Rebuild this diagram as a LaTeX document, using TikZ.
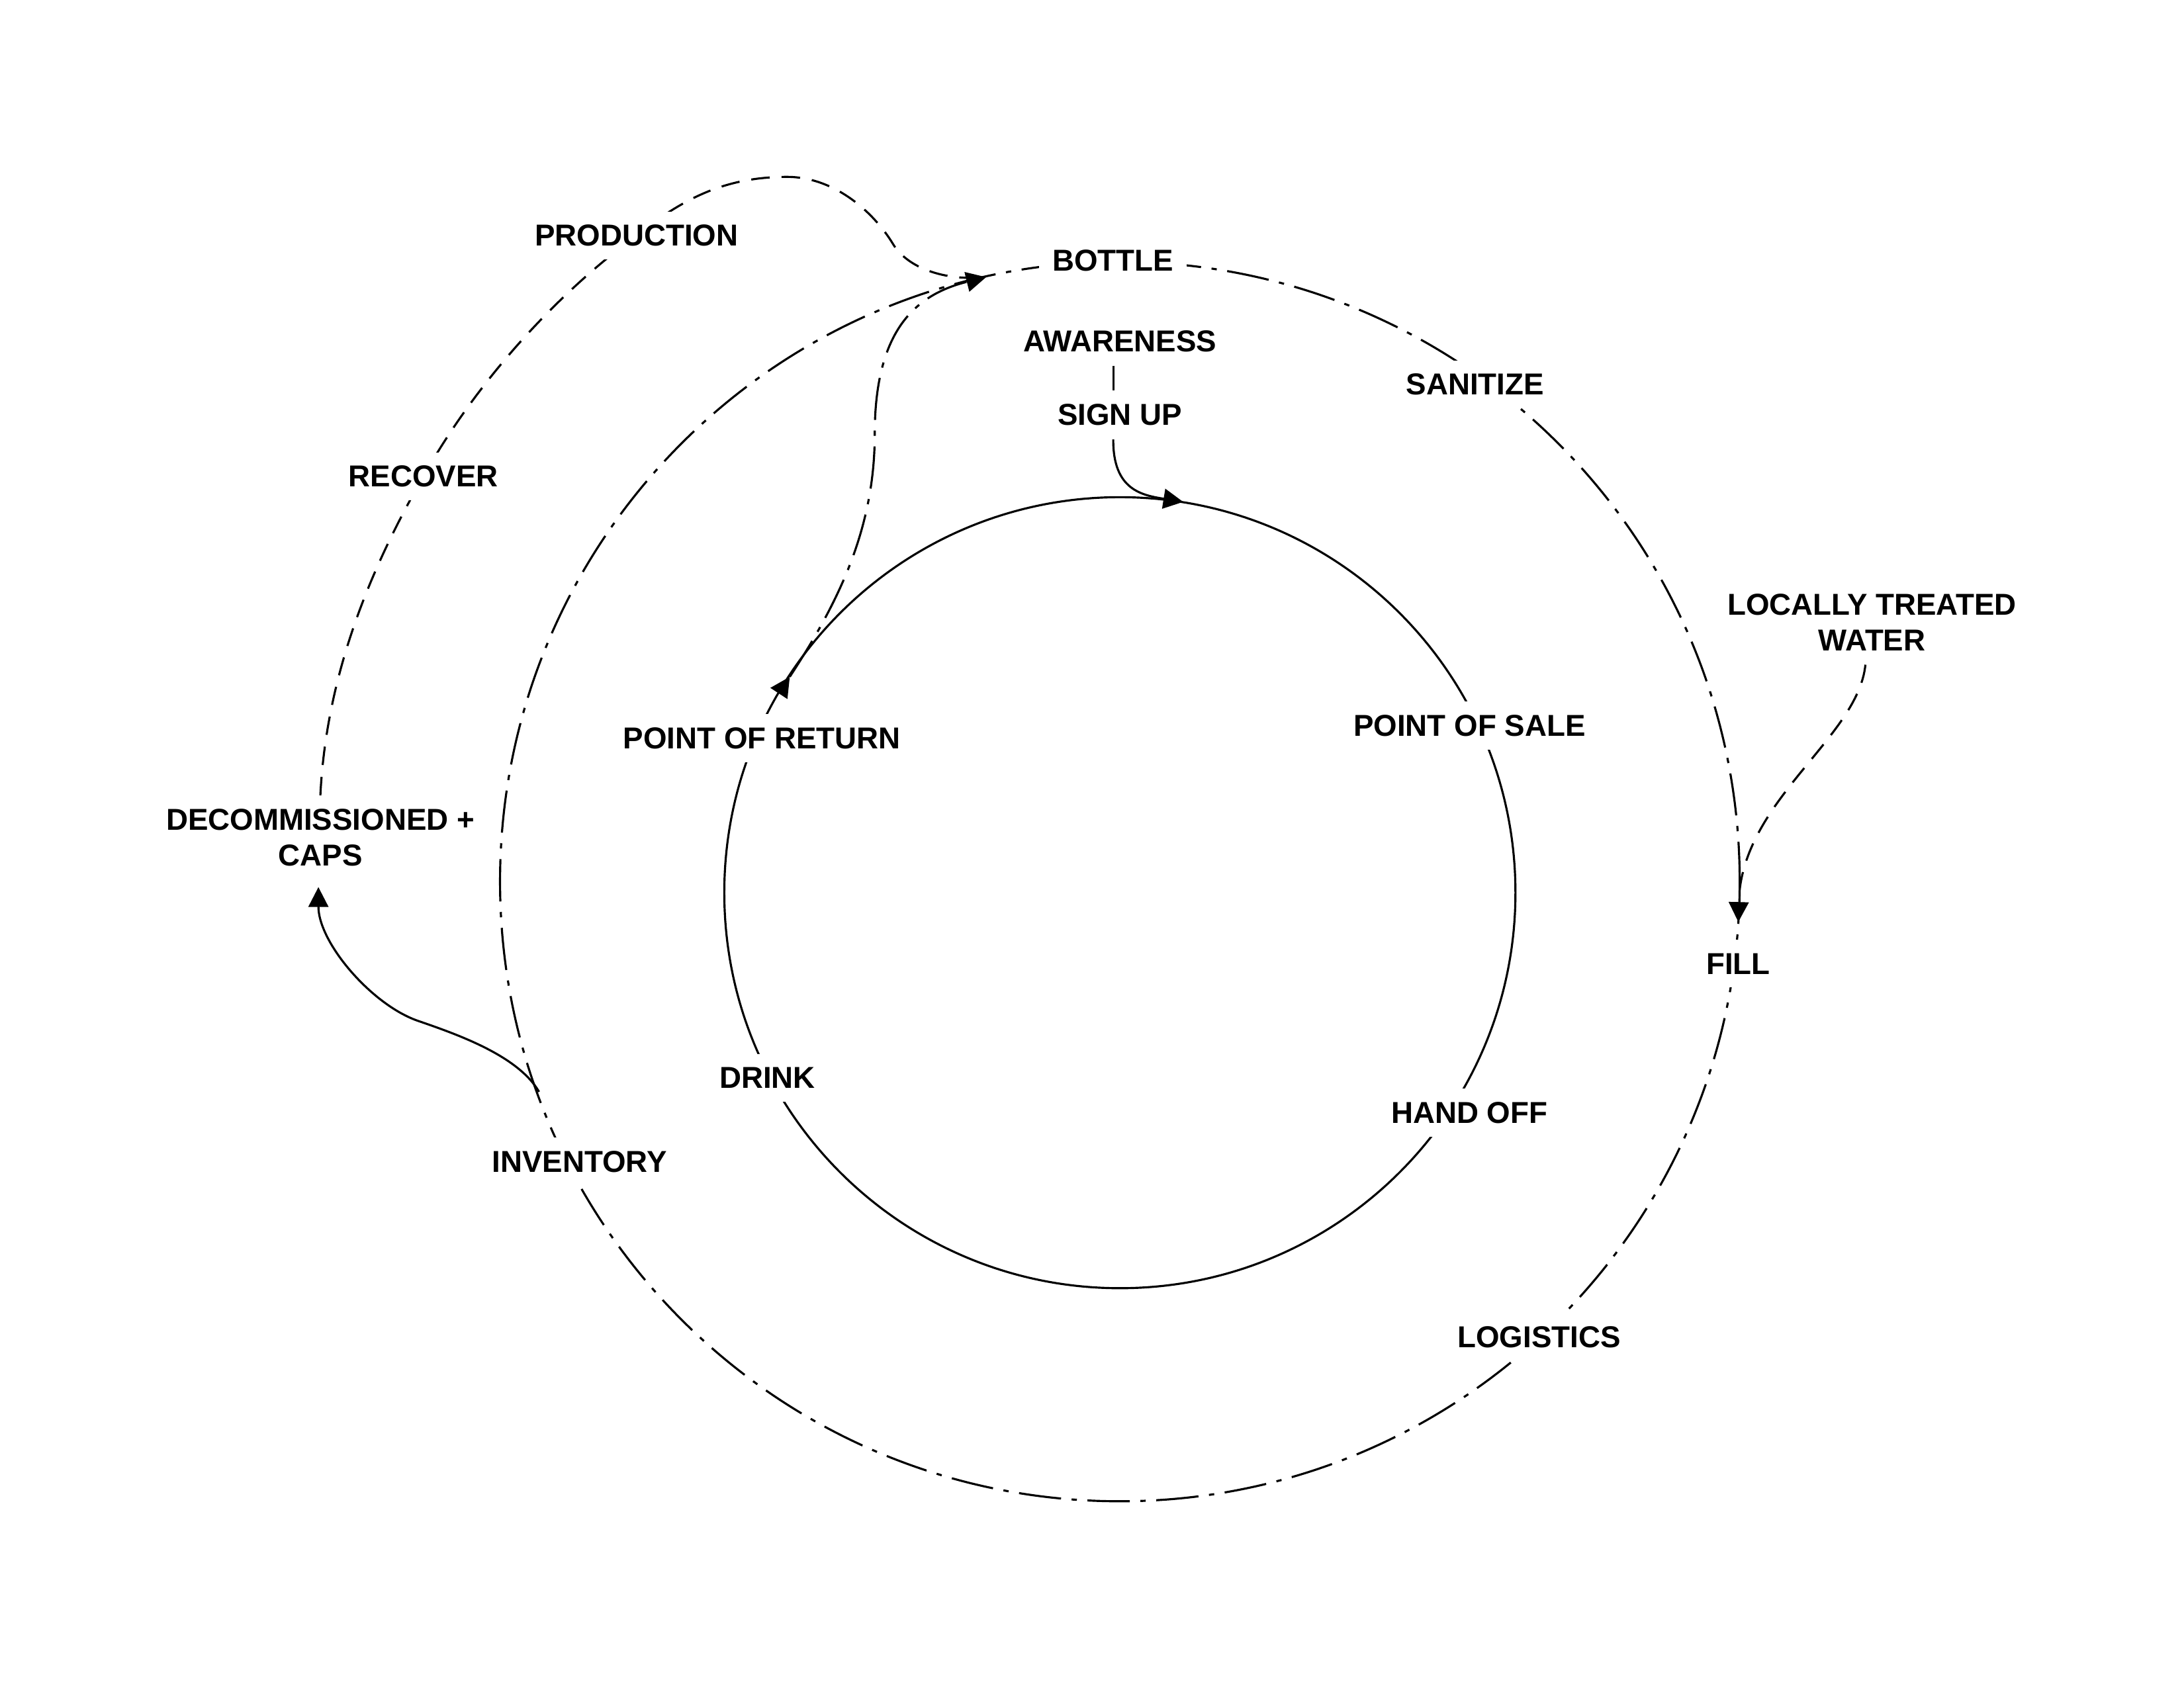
\documentclass[tikz,border=0pt]{standalone}
\usepackage{fontspec}
\setmainfont{Liberation Sans}
\usetikzlibrary{arrows.meta,backgrounds}
\tikzset{
  lab/.style={font=\bfseries\fontsize{13pt}{15.4pt}\selectfont, fill=white, inner sep=0.2cm, align=center},
  conn/.style={line width=0.9pt},
  dashdot/.style={conn, dash pattern=on 0.64cm off 0.16cm on 0.08cm off 0.16cm},
  dashline/.style={conn, dash pattern=on 0.28cm off 0.18cm},
  tip/.style={-{Triangle[length=0.3cm,width=0.3cm]}}
}
\begin{document}
\begin{tikzpicture}[x=0.021046cm,y=-0.021046cm]
\useasboundingbox (0,0) rectangle (1568,1211.63);
% labels
\node[lab] (bottle) at (799,187) {BOTTLE};
\node[lab] (production) at (457,169) {PRODUCTION};
\node[lab] (awareness) at (804,245) {AWARENESS};
\node[lab] (signup) at (804,298) {SIGN UP};
\node[lab] (sanitize) at (1059,276) {SANITIZE};
\node[lab] (recover) at (304,342) {RECOVER};
\node[lab] (water) at (1344,447) {LOCALLY TREATED\\WATER};
\node[lab] (por) at (547,530) {POINT OF RETURN};
\node[lab] (pos) at (1055,521) {POINT OF SALE};
\node[lab] (decom) at (230,601.5) {DECOMMISSIONED +\\CAPS};
\node[lab] (fill) at (1248,692) {FILL};
\node[lab] (drink) at (551,774) {DRINK};
\node[lab] (handoff) at (1055,799) {HAND OFF};
\node[lab] (inventory) at (416,834) {INVENTORY};
\node[lab] (logistics) at (1105,960) {LOGISTICS};
% coordinates
\coordinate (outerc) at (804,633);
\coordinate (innerc) at (804,641);
\coordinate (btip) at (708,199);
\coordinate (rtip) at (567,486);
\coordinate (rtail) at (561.5,494.4);
\coordinate (stip) at (849.5,360.4);
\coordinate (ftip) at (1248,662);
\coordinate (dtip) at (228.6,637);
\coordinate (invstart) at (387,784);
\coordinate (rmid) at (628,312);
\coordinate (peak) at (565,127);
\coordinate (pmid) at (641,175);
\coordinate (imid) at (300,733);
\begin{scope}[on background layer]
  \draw[dashdot] (outerc) circle[radius=445];
  \draw[conn] (innerc) circle[radius=284];
  \draw[conn,tip] (rtail) -- (rtip);
  % return path
  \draw[dashdot,tip] (rtip) .. controls (599.8,435.8) and (628,382) .. (rmid)
        .. controls (628,240) and (655,212) .. (btip);
  % production path
  \draw[dashline] (decom.north) .. controls (234,490) and (262,415) .. (recover.center)
        .. controls (340.5,277) and (396,214) .. (production.center)
        .. controls (490,143) and (520,127) .. (peak)
        .. controls (600,127) and (628,153.5) .. (pmid)
        .. controls (651.2,192.2) and (678,202) .. (btip);
  % locally treated water -> fill
  \draw[dashline,tip] ([xshift=-0.1cm]water.south) .. controls (1334,530) and (1250,575) .. (ftip);
  % awareness - sign up
  \draw[conn] ([xshift=-0.1cm]awareness.south) -- ([xshift=-0.1cm]signup.north);
  \draw[conn,tip] ([xshift=-0.1cm]signup.south) .. controls (799,352) and (820,355.6) .. (stip);
  % inventory -> decommissioned
  \draw[conn,tip] (invstart) .. controls (372,758) and (328.4,742.8) .. (imid)
        .. controls (267,721.6) and (228.6,677) .. (dtip);
\end{scope}
\end{tikzpicture}
\end{document}
